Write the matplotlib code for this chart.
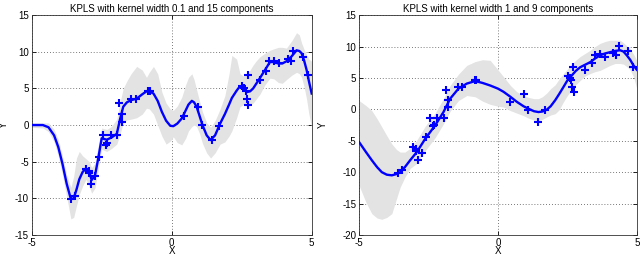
import matplotlib
matplotlib.use("Agg")
import matplotlib.pyplot as plt

plt.rcParams["font.family"] = ["Liberation Sans", "DejaVu Sans"]
plt.rcParams["axes.unicode_minus"] = False

BLUE, BAND = "#0000ff", "#e3e3e3"

# training data (same in both panels)
x_data = [-3.58, -3.45, -3.06, -2.96, -2.94, -2.87, -2.74, -2.59, -2.44, -2.33,
          -2.30, -2.18, -1.94, -1.87, -1.79, -1.79, -1.45, -1.29, -0.84, -0.78,
          0.45, 0.93, 1.09, 1.45, 1.70, 2.52, 2.58, 2.64, 2.72, 2.68, 2.74,
          3.15, 3.38, 3.48, 3.67, 3.84, 4.16, 4.25, 4.35, 4.68, 4.86]
y_data = [-10.1, -9.7, -6.0, -6.3, -6.6, -8.1, -7.0, -4.4, -1.4, -2.7,
          -2.45, -1.3, -1.3, 3.04, 1.5, 0.45, 3.5, 3.55, 4.6, 4.6,
          1.2, 2.5, -0.05, -2.0, -0.1, 5.3, 5.0, 4.7, 6.8, 3.5, 2.7,
          6.2, 7.4, 8.7, 8.8, 8.4, 8.95, 8.7, 10.1, 9.35, 6.8]

# KPLS, width 0.1, 15 components
xl = [-5.0, -4.6, -4.4, -4.2, -4.05, -3.9, -3.75, -3.6, -3.5, -3.4, -3.3, -3.18,
      -3.06, -2.94, -2.86, -2.74, -2.62, -2.5, -2.32, -2.15, -1.96, -1.85, -1.73,
      -1.6, -1.45, -1.25, -1.05, -0.9, -0.8, -0.65, -0.5, -0.35, -0.2, -0.05, 0.06,
      0.2, 0.36, 0.5, 0.6, 0.72, 0.8, 0.89, 1.0, 1.1, 1.25, 1.39, 1.55, 1.73, 1.9,
      2.05, 2.15, 2.32, 2.44, 2.56, 2.68, 2.8, 2.91, 3.03, 3.15, 3.33, 3.51, 3.65,
      3.81, 3.95, 4.1, 4.29, 4.46, 4.56, 4.64, 4.73, 4.82, 4.9, 5.0]
yl = [0.0, 0.0, -0.3, -1.4, -3.0, -5.3, -8.0, -10.1, -10.0, -8.8, -7.4, -6.4,
      -5.9, -6.4, -7.5, -6.9, -4.5, -1.8, -2.0, -1.7, -1.2, 0.7, 2.5,
      3.1, 3.4, 3.6, 4.2, 4.6, 4.6, 4.3, 3.3, 1.8, 0.6, -0.1, -0.15,
      0.2, 0.9, 2.0, 2.8, 3.3, 3.1, 2.5, 1.2, 0.0, -1.4, -2.05, -1.4, 0.2, 1.5,
      2.8, 3.7, 4.7, 5.3, 5.1, 4.5, 4.6, 5.0, 5.7, 6.4, 7.5, 8.6, 8.6,
      8.4, 8.4, 8.7, 9.4, 10.2, 10.1, 9.8, 8.8, 7.5, 6.0, 4.3]
ul = [0.3, 0.3, 0.3, -0.6, -2.0, -4.2, -6.8, -8.5, -7.0, -4.5, -3.6, -4.2,
      -4.6, -5.0, -5.8, -5.2, -2.8, -0.4, -0.6, -0.2, 0.8, 3.0, 5.0,
      6.0, 7.0, 8.0, 7.5, 6.5, 7.2, 8.0, 7.0, 4.5, 3.0, 2.2, 2.0,
      2.6, 3.8, 5.5, 6.5, 7.0, 6.2, 4.8, 3.2, 1.8, 0.3, -0.3, 0.6, 2.2, 4.0,
      7.0, 9.5, 9.0, 7.0, 6.7, 6.8, 7.5, 8.2, 8.8, 9.3, 9.8, 10.2, 10.4,
      10.6, 10.6, 10.5, 11.5, 12.6, 12.3, 11.2, 10.3, 9.6, 9.0, 8.7]
ll = [-0.3, -0.4, -0.9, -2.3, -4.2, -6.8, -9.8, -12.8, -12.6, -11.0, -9.5, -8.3,
      -7.4, -8.4, -9.3, -8.6, -6.0, -3.3, -3.6, -3.2, -2.6, -1.3, 0.3,
      0.7, 0.8, 1.0, 1.5, 2.3, 2.2, 1.5, 0.0, -1.5, -2.6, -2.2, -1.6,
      -2.4, -2.7, -1.8, -0.8, -0.2, 0.0, -0.2, -1.2, -2.5, -3.8, -4.5, -3.8, -2.6, -2.3,
      -1.5, -0.8, 1.0, 2.5, 2.8, 2.6, 2.7, 3.0, 3.6, 4.2, 5.5, 6.4, 6.3,
      5.8, 5.7, 6.2, 6.8, 7.2, 7.0, 6.5, 5.2, 3.5, 1.5, -0.3]

# KPLS, width 1, 9 components
xr = [-5.0, -4.75, -4.54, -4.35, -4.18, -4.0, -3.82, -3.65, -3.52, -3.35, -3.16,
      -2.92, -2.62, -2.26, -1.96, -1.72, -1.42, -1.12, -0.82, -0.55, -0.28, 0.0,
      0.2, 0.45, 0.68, 0.92, 1.1, 1.3, 1.46, 1.6, 1.76, 1.9, 2.06, 2.2, 2.36,
      2.5, 2.66, 2.8, 2.96, 3.14, 3.32, 3.5, 3.68, 3.86, 4.04, 4.22, 4.4, 4.52,
      4.64, 4.76, 4.88, 5.0]
yr = [-5.2, -6.8, -8.1, -9.2, -10.0, -10.4, -10.5, -10.3, -10.0, -9.2, -8.1,
      -6.8, -4.7, -2.55, -0.43, 1.7, 3.3, 4.1, 4.5, 4.2, 3.8, 3.3,
      2.8, 2.0, 1.2, 0.5, 0.1, -0.3, -0.43, -0.35, -0.05, 0.5, 1.44, 2.4, 3.56,
      4.6, 5.4, 6.1, 6.7, 7.1, 7.5, 8.1, 8.6, 8.9, 9.1, 9.3, 9.4, 9.2,
      8.6, 7.9, 7.0, 6.3]
ur = [1.4, 0.6, -0.2, -1.5, -2.8, -4.2, -5.5, -6.4, -6.8, -6.8, -6.2,
      -4.9, -2.7, -0.6, 1.7, 3.8, 5.6, 7.0, 7.6, 7.9, 7.8, 6.3,
      5.2, 3.8, 2.8, 2.2, 1.9, 1.7, 1.7, 2.0, 2.6, 3.3, 3.9, 4.8, 5.7,
      6.4, 7.2, 7.8, 8.4, 8.9, 9.4, 10.0, 10.5, 10.8, 11.0, 11.0, 11.0, 10.6,
      10.1, 9.6, 8.8, 7.8]
lr = [-12.1, -14.8, -16.6, -17.3, -17.5, -17.2, -16.6, -14.2, -12.4, -10.8, -9.4,
      -8.6, -6.6, -4.5, -2.3, -0.3, 1.4, 2.2, 2.0, 1.3, 0.8, 0.5,
      0.37, -0.2, -0.6, -1.0, -1.4, -1.7, -1.75, -1.6, -1.2, -0.9, -0.7, -0.1, 1.2,
      2.2, 3.1, 3.9, 4.6, 5.3, 5.7, 6.0, 6.2, 6.6, 7.0, 7.3, 7.3, 7.2,
      6.8, 6.3, 5.2, 3.3]

panels = [
    ("KPLS with kernel width 0.1 and 15 components", xl, yl, ul, ll, (-15, 15), range(-15, 16, 5)),
    ("KPLS with kernel width 1 and 9 components", xr, yr, ur, lr, (-20, 15), range(-20, 16, 5)),
]

fig = plt.figure(figsize=(6.4, 2.56), dpi=100)
rects = [[0.0495, 0.082, 0.4375, 0.859], [0.561, 0.082, 0.434, 0.859]]
ylab_x = [-0.082, -0.112]

for rect, lx, (title, xc, yc, up, lo, ylim, yt) in zip(rects, ylab_x, panels):
    ax = fig.add_axes(rect)
    ax.fill_between(xc, lo, up, color=BAND, lw=0, zorder=1)
    ax.plot(xc, yc, color=BLUE, lw=1.7, zorder=3)
    ax.plot(x_data, y_data, "+", color=BLUE, ms=6, mew=1.5, zorder=4)
    ax.set_xlim(-5, 5); ax.set_ylim(*ylim)
    ax.set_xticks([-5, 0, 5]); ax.set_yticks(list(yt))
    ax.grid(True, color="black", ls=(0, (1, 2.5)), lw=0.6, alpha=0.7)
    ax.set_axisbelow(True)
    ax.tick_params(direction="in", labelsize=7, length=3, width=0.6, pad=2,
                   top=True, right=True)
    for s in ax.spines.values():
        s.set_linewidth(0.6); s.set_color("#333333")
    ax.set_title(title, fontsize=7, pad=2.5)
    ax.set_xlabel("X", fontsize=7, labelpad=-1)
    ax.set_ylabel("Y", fontsize=7)
    ax.yaxis.set_label_coords(lx, 0.5)

fig.savefig("out.png", dpi=100, facecolor="white")
